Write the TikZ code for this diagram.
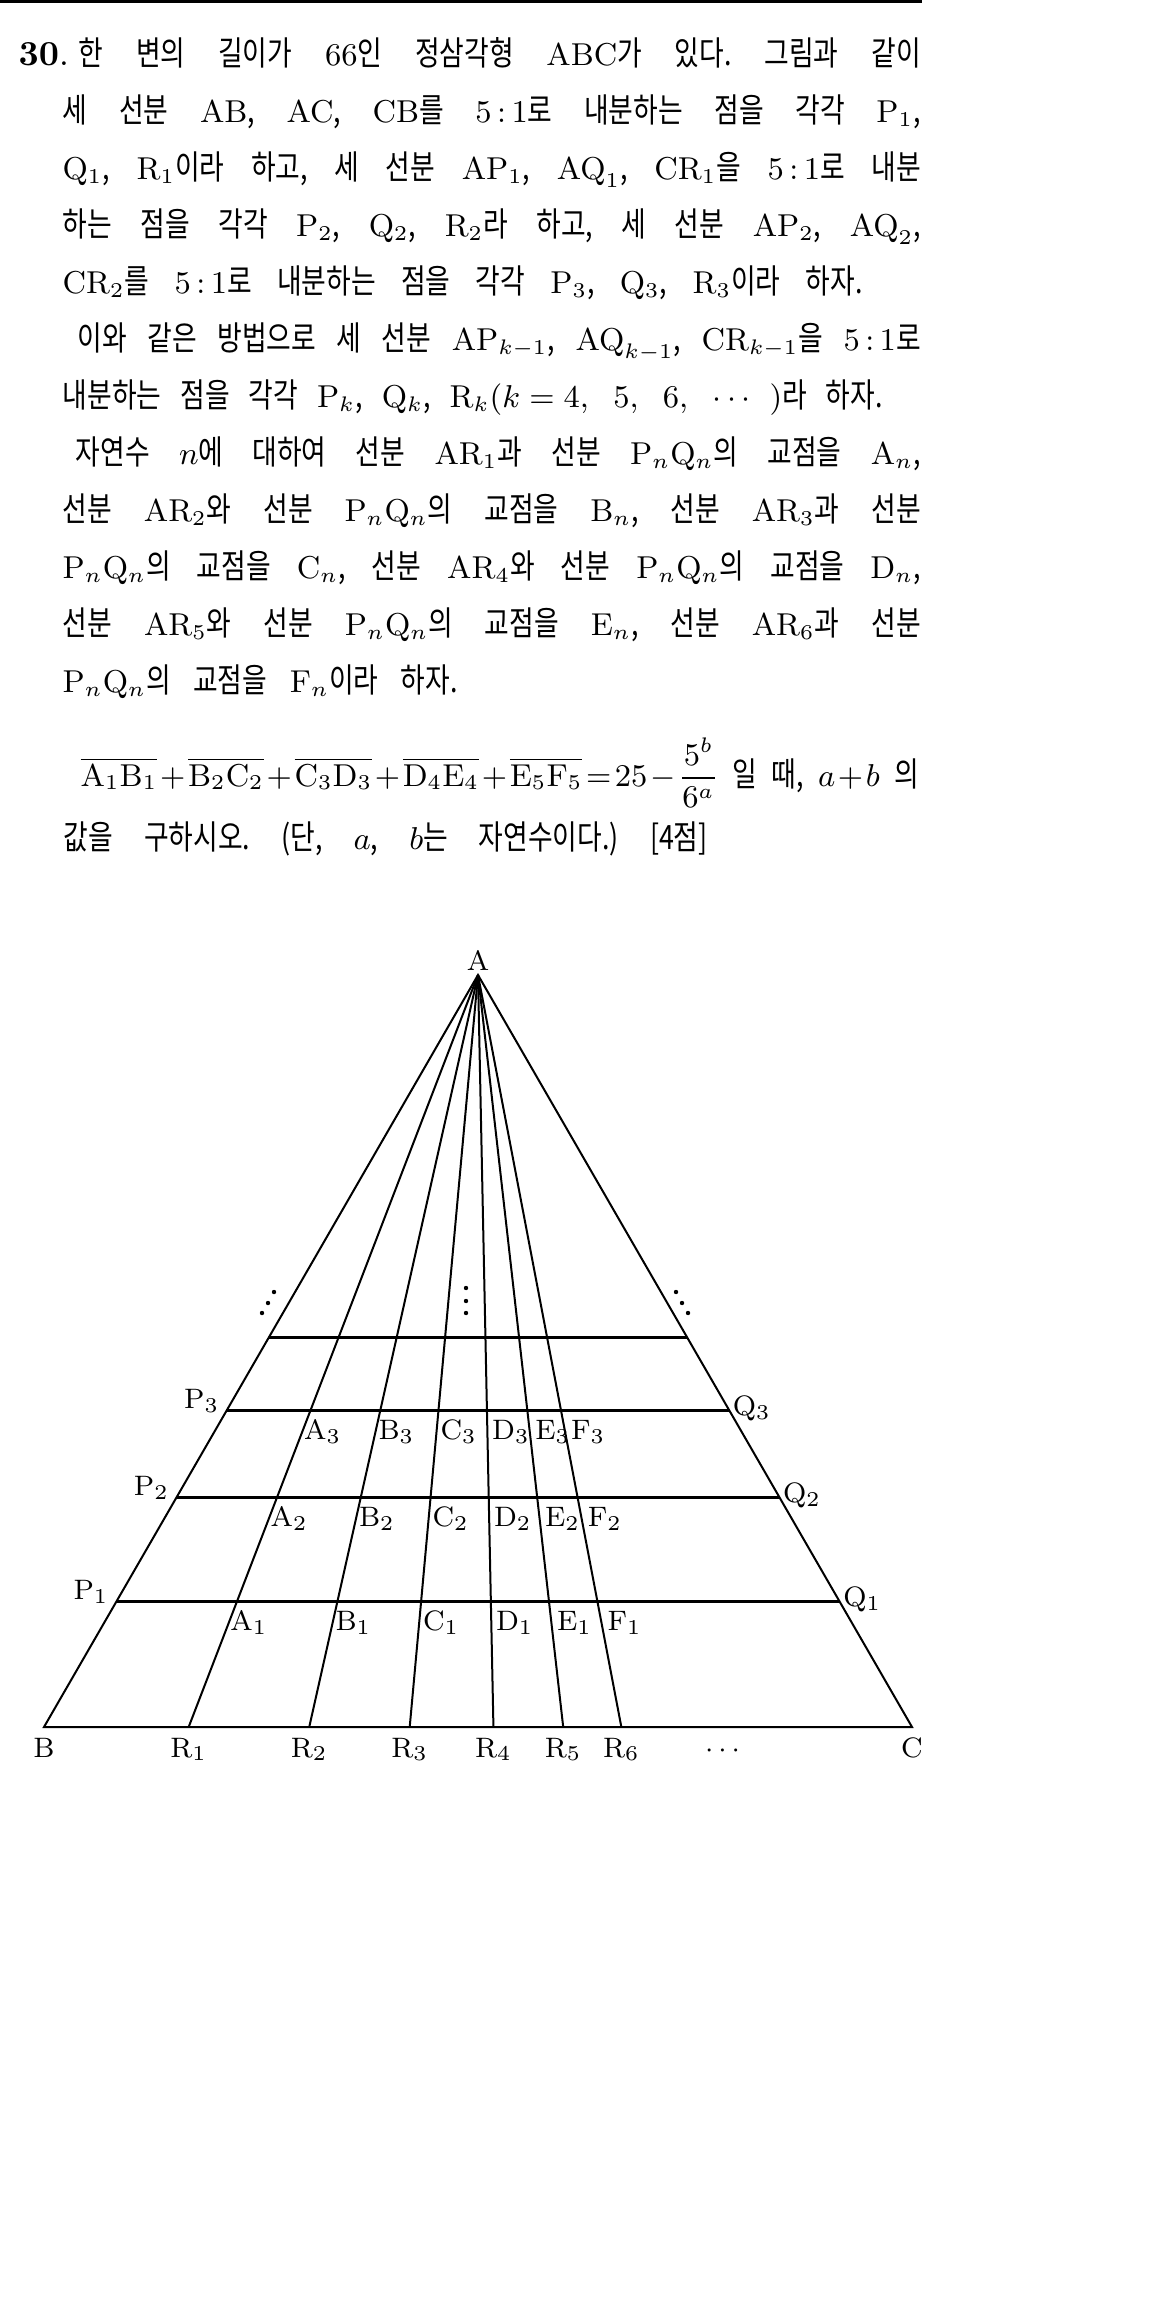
\documentclass[tikz,border=0pt]{standalone}
\usepackage{amsmath}
\usepackage[no-math]{fontspec}
\setmainfont{Noto Sans CJK KR}[FakeStretch=0.8, Scale=1.06]
\usepackage{tikz}
\usetikzlibrary{calc}

\begin{document}
\begin{tikzpicture}[x=1cm, y=1cm,
    txt/.style={anchor=base west, inner sep=0pt,
        font={\fontsize{9}{11}\selectfont\frenchspacing\thickmuskip=5mu\relax\medmuskip=4mu\relax}},
    lbl/.style={inner sep=0pt, font=\fontsize{8.5}{10}\selectfont},
    side/.style={line width=0.2mm},
    cut/.style={line width=0.3mm}]

    \useasboundingbox (0,0) rectangle (11.65,-23.16);

    % rule on top
    \fill (0,0) rectangle (9.22,-0.03);

    % problem text
    \node [txt] (num) at (0.18,-0.66) {\fontsize{10}{12}\selectfont$\mathbf{30.}$};
    \node [txt] (line1) at (0.78,-0.66) {\makebox[8.42cm][s]{한 변의 길이가 $66$인 정삼각형 $\mathrm{ABC}$가 있다. 그림과 같이}};
    \node [txt] (line2) at (0.62,-1.23) {\makebox[8.58cm][s]{세 선분 $\mathrm{AB}$, $\mathrm{AC}$, $\mathrm{CB}$를 $5\,{:}\,1$로 내분하는 점을 각각 $\mathrm{P}_1$,}};
    \node [txt] (line3) at (0.62,-1.80) {\makebox[8.58cm][s]{$\mathrm{Q}_1$, $\mathrm{R}_1$이라 하고, 세 선분 $\mathrm{AP}_1$, $\mathrm{AQ}_1$, $\mathrm{CR}_1$을 $5\,{:}\,1$로 내분}};
    \node [txt] (line4) at (0.62,-2.37) {\makebox[8.58cm][s]{하는 점을 각각 $\mathrm{P}_2$, $\mathrm{Q}_2$, $\mathrm{R}_2$라 하고, 세 선분 $\mathrm{AP}_2$, $\mathrm{AQ}_2$,}};
    \node [txt] (line5) at (0.62,-2.94) {\makebox[8.00cm][s]{$\mathrm{CR}_2$를 $5\,{:}\,1$로 내분하는 점을 각각 $\mathrm{P}_3$, $\mathrm{Q}_3$, $\mathrm{R}_3$이라 하자.}};
    \node [txt] (line6) at (0.77,-3.51) {\makebox[8.43cm][s]{이와 같은 방법으로 세 선분 $\mathrm{AP}_{k-1}$, $\mathrm{AQ}_{k-1}$, $\mathrm{CR}_{k-1}$을 $5\,{:}\,1$로}};
    \node [txt] (line7) at (0.62,-4.08) {\makebox[8.20cm][s]{내분하는 점을 각각 $\mathrm{P}_k$, $\mathrm{Q}_k$, $\mathrm{R}_k(k=4,\ 5,\ 6,\ \cdots\ )$라 하자.}};
    \node [txt] (line8) at (0.75,-4.65) {\makebox[8.45cm][s]{자연수 $n$에 대하여 선분 $\mathrm{AR}_1$과 선분 $\mathrm{P}_n\mathrm{Q}_n$의 교점을 $\mathrm{A}_n$,}};
    \node [txt] (line9) at (0.62,-5.22) {\makebox[8.58cm][s]{선분 $\mathrm{AR}_2$와 선분 $\mathrm{P}_n\mathrm{Q}_n$의 교점을 $\mathrm{B}_n$, 선분 $\mathrm{AR}_3$과 선분}};
    \node [txt] (line10) at (0.62,-5.79) {\makebox[8.58cm][s]{$\mathrm{P}_n\mathrm{Q}_n$의 교점을 $\mathrm{C}_n$, 선분 $\mathrm{AR}_4$와 선분 $\mathrm{P}_n\mathrm{Q}_n$의 교점을 $\mathrm{D}_n$,}};
    \node [txt] (line11) at (0.62,-6.36) {\makebox[8.58cm][s]{선분 $\mathrm{AR}_5$와 선분 $\mathrm{P}_n\mathrm{Q}_n$의 교점을 $\mathrm{E}_n$, 선분 $\mathrm{AR}_6$과 선분}};
    \node [txt] (line12) at (0.62,-6.93) {\makebox[3.95cm][s]{$\mathrm{P}_n\mathrm{Q}_n$의 교점을 $\mathrm{F}_n$이라 하자.}};
    \node [txt] (line13) at (0.80,-7.86) {\medmuskip=1.5mu\relax\thickmuskip=2mu\relax\makebox[8.38cm][s]{$\overline{\mathrm{A}_1\mathrm{B}_1}+\overline{\mathrm{B}_2\mathrm{C}_2}+\overline{\mathrm{C}_3\mathrm{D}_3}+\overline{\mathrm{D}_4\mathrm{E}_4}+\overline{\mathrm{E}_5\mathrm{F}_5}=25-\dfrac{5^b}{6^a}$ 일 때, $a+b$ 의}};
    \node [txt] (line14) at (0.63,-8.49) {\makebox[6.44cm][s]{값을 구하시오. (단, $a$, $b$는 자연수이다.) [4점]}};

    % vertices
    \coordinate (A) at (4.78,-9.75);
    \coordinate (B) at (0.44,-17.27);
    \coordinate (C) at (9.12,-17.27);

    % points dividing in 5:1
    \foreach \k in {1,...,6}
        \coordinate (R\k) at ($(C)!{pow(5/6,\k)}!(B)$);
    \foreach \k in {1,...,4} {
        \coordinate (P\k) at ($(A)!{pow(5/6,\k)}!(B)$);
        \coordinate (Q\k) at ($(A)!{pow(5/6,\k)}!(C)$);
    }

    % triangle and lines from A
    \draw [side] (A) -- (B) -- (C) -- cycle;
    \foreach \k in {1,...,6}
        \draw [side] (A) -- (R\k);

    % segments P_k Q_k
    \foreach \k in {1,...,4}
        \draw [cut] (P\k) -- (Q\k);

    % vertex labels
    \node [lbl, anchor=base] (lab-A) at ([yshift=0.5mm]A) {$\mathrm{A}$};
    \node [lbl, anchor=base] (lab-B) at ([yshift=-3mm]B) {$\mathrm{B}$};
    \node [lbl, anchor=base] (lab-C) at ([yshift=-3mm]C) {$\mathrm{C}$};
    \foreach \k in {1,...,6}
        \node [lbl, anchor=base] (lab-R\k) at ([yshift=-3mm]R\k) {$\mathrm{R}_{\k}$};
    \node [lbl, anchor=base] (lab-dots) at (7.25,-17.57) {$\cdots$};

    \foreach \k in {1,2,3} {
        \node [lbl, anchor=base east] (lab-P\k) at ([shift={(-0.7mm,0.2mm)}]P\k) {$\mathrm{P}_{\k}$};
        \node [lbl, anchor=base west] (lab-Q\k) at ([shift={(0.3mm,-0.5mm)}]Q\k) {$\mathrm{Q}_{\k}$};
    }

    % crossing labels, baseline 2.9mm under P_nQ_n
    \foreach \l [count=\j] in {A,B,C,D,E,F}
        \foreach \n in {1,2,3}
            \node [lbl, anchor=base west, xshift=0.4mm] (lab-\l\n)
                at ($(A)!{pow(5/6,\n)+0.29/7.52}!(R\j)$) {$\mathrm{\l}_{\n}$};

    % dots
    \foreach \p in {(2.74,-12.92),(2.68,-13.03),(2.62,-13.13),
                    (4.66,-12.88),(4.66,-13.01),(4.66,-13.13),
                    (6.76,-12.92),(6.82,-13.03),(6.88,-13.13)}
        \fill \p circle (0.22mm);

\end{tikzpicture}
\end{document}
